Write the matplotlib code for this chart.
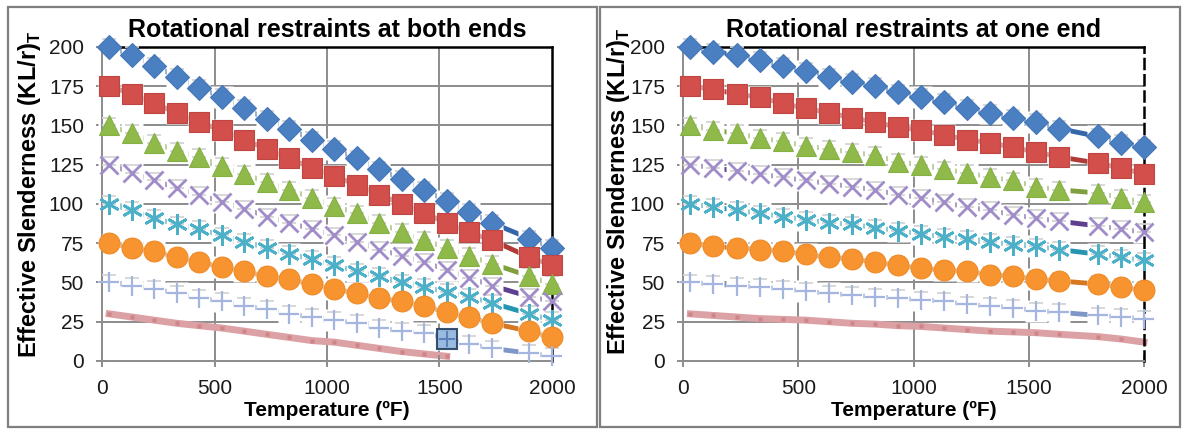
import matplotlib
matplotlib.use("Agg")
import matplotlib.pyplot as plt
from matplotlib.patches import Rectangle

plt.rcParams["font.family"] = ["Liberation Sans", "DejaVu Sans"]
plt.rcParams["mathtext.fontset"] = "custom"
plt.rcParams["mathtext.rm"] = "Liberation Sans"
plt.rcParams["mathtext.bf"] = "Liberation Sans:bold"

# temperatures (F) of the plotted points
TEMP_L = [32, 132, 232, 332, 432, 532, 632, 732, 832, 932, 1032, 1132, 1232,
          1332, 1432, 1532, 1632, 1732, 1900, 2000]
TEMP_R = [32, 132, 232, 332, 432, 532, 632, 732, 832, 932, 1032, 1132, 1232,
          1332, 1432, 1532, 1632, 1800, 1900, 2000]

# rotational restraints at both ends
BLUE_L = [200, 195, 188, 181, 174, 168, 161, 154, 148, 141, 135, 129, 122, 116, 109, 102, 95, 88, 78, 72]
RED_L = [175, 170, 164, 158, 152, 147, 141, 135, 129, 123, 118, 112, 106, 100, 94, 88, 82, 77, 66, 61]
GREEN_L = [150, 145, 139, 134, 130, 124, 119, 114, 109, 104, 99, 94, 88, 82, 77, 72, 67, 62, 54, 49]
PURPLE_L = [125, 120, 115, 110, 106, 101, 97, 92, 88, 84, 80, 76, 71, 67, 63, 58, 53, 48, 41, 38]
CYAN_L = [100, 96, 91, 87, 84, 80, 76, 72, 68, 65, 61, 57, 54, 50, 47, 44, 41, 37, 30, 26]
ORANGE_L = [75, 72, 70, 66, 63, 60, 57, 54, 52, 49, 46, 43, 40, 38, 35, 31, 28, 24, 19, 15]
PLUS_L = [50, 48, 46, 43, 40, 38, 35, 33, 30, 28, 26, 24, 21, 19, 18, 14, 11, 8, 5, 3]
PINK_L = [30, 28, 26, 24, 22.5, 21, 19, 17, 15, 13, 12, 10, 8, 6, 4.5, 3]

# rotational restraints at one end
BLUE_R = [200, 197, 195, 192, 188, 185, 181, 178, 175, 171, 168, 165, 161, 158, 155, 152, 148, 143, 139, 136]
RED_R = [175, 173, 170, 168, 164, 161, 158, 155, 152, 149, 147, 144, 141, 139, 136, 133, 130, 126, 123, 119]
GREEN_R = [150, 147, 145, 142, 140, 137, 135, 133, 131, 127, 125, 122, 120, 117, 115, 111, 109, 107, 104, 101]
PURPLE_R = [125, 123, 121, 119, 117, 115, 113, 111, 109, 106, 104, 101, 98, 96, 93, 91, 89, 86, 84, 82]
CYAN_R = [100, 98, 96, 94, 92, 90, 88, 87, 85, 83, 81, 79, 78, 76, 74, 73, 71, 68, 66, 64]
ORANGE_R = [75, 73, 72, 71, 70, 68, 66, 65, 63, 61, 59, 58, 57, 55, 54, 52, 51, 49, 47, 45]
PLUS_R = [50, 49, 48, 47, 46, 44.5, 43, 42, 41, 40, 39, 38, 36, 35, 34, 32, 31, 29, 28, 27]
PINK_R = [30, 29, 28, 27, 26.5, 26, 25, 24, 23.5, 22.5, 22, 21, 20, 19, 18.5, 18, 17, 15.5, 14, 12]

HIGHLIGHT_IDX = 15  # selected point on the "+" series, left panel
CAP_ERR = 5  # the faint caps drawn above each marker

XTICKS = [0, 500, 1000, 1500, 2000]
YTICKS = [0, 25, 50, 75, 100, 125, 150, 175, 200]

# (marker, size, face, edge, line colour, marker edge width)
STYLES = [
    ("D", 12, "#4a7fc1", "#4477b8", "#3566a8", 0.8),
    ("s", 15, "#d24f4b", "#bf4642", "#b03a36", 0.8),
    ("^", 15, "#8fba4a", "#84b044", "#80a040", 0.8),
    ("x", 13, "#a08cc8", "#a08cc8", "#5f3f8f", 2.0),
    ((6, 2, 0), 15, "#4bb0c8", "#4bb0c8", "#2595b0", 2.0),
    ("o", 15, "#f79430", "#ee8a26", "#d67820", 0.8),
    ("+", 15, "#a4b6df", "#a4b6df", "#7f96c8", 1.6),
]

GRID = "#8c8c8c"


def draw_panel(ax, temps, series, pink, title):
    for v in XTICKS[1:-1]:
        ax.axvline(v, color=GRID, lw=1.4, zorder=0)
    for v in YTICKS[1:-1]:
        ax.axhline(v, color=GRID, lw=1.4, zorder=0)

    ax.plot(temps[:len(pink)], pink, color="#dca1a4", lw=5, zorder=1,
            clip_on=False, marker="s", ms=3.5, mfc="#cf8488", mec="none")

    for ys, (mk, ms, fc, ec, lc, mew) in zip(series, STYLES):
        ax.plot(temps, ys, color=lc, lw=3.5, zorder=2, clip_on=False,
                solid_capstyle="butt")
        # white halo behind each marker, hides the line and grid under it
        ax.plot(temps, ys, ls="none", marker="s", ms=15.5, mfc="white",
                mec="none", zorder=2.5, clip_on=False)
        ax.errorbar(temps, ys, yerr=[[0] * len(ys), [CAP_ERR] * len(ys)],
                    fmt="none", ecolor="#d4d4d4", elinewidth=0, capsize=5,
                    capthick=1.3, zorder=2.6, clip_on=False)
        ax.plot(temps, ys, ls="none", marker=mk, ms=ms, mfc=fc, mec=ec,
                mew=mew, zorder=3, clip_on=False)

    ax.set_xlim(0, 2000)
    ax.set_ylim(0, 200)
    ax.set_xticks(XTICKS)
    ax.set_yticks(YTICKS)
    ax.tick_params(direction="inout", length=8, width=1.4, color=GRID,
                   labelsize=15, labelcolor="#1a1a1a", pad=9)

    for side in ("left", "bottom"):
        ax.spines[side].set_color(GRID)
        ax.spines[side].set_linewidth(1.4)
    ax.spines["top"].set_color("black")
    ax.spines["top"].set_linewidth(1.8)
    ax.spines["right"].set_color("black")
    ax.spines["right"].set_linewidth(1.8)

    ax.set_title(title, fontsize=18, fontweight="bold", pad=7)
    ax.set_xlabel("Temperature (ºF)", fontsize=15, fontweight="bold",
                  labelpad=2)
    ax.set_ylabel(r"Effective Slenderness (KL/r)$_\mathregular{T}$",
                  fontsize=17, fontweight="bold")


fig = plt.figure(figsize=(11.85, 4.32), dpi=100)
ax1 = fig.add_axes([0.0861, 0.1644, 0.3797, 0.7269])
ax2 = fig.add_axes([0.5764, 0.1644, 0.3890, 0.7269])

draw_panel(ax1, TEMP_L,
           [BLUE_L, RED_L, GREEN_L, PURPLE_L, CYAN_L, ORANGE_L, PLUS_L],
           PINK_L, "Rotational restraints at both ends")
draw_panel(ax2, TEMP_R,
           [BLUE_R, RED_R, GREEN_R, PURPLE_R, CYAN_R, ORANGE_R, PLUS_R],
           PINK_R, "Rotational restraints at one end")
ax2.spines["right"].set_linestyle((0, (4, 2.5)))

# selected point box
ax1.plot(TEMP_L[HIGHLIGHT_IDX], PLUS_L[HIGHLIGHT_IDX], marker="s", ms=15,
         mfc="#8fb4dd", mec="#243f60", mew=1.5, zorder=4, alpha=0.9)
ax1.plot(TEMP_L[HIGHLIGHT_IDX], PLUS_L[HIGHLIGHT_IDX], marker="+", ms=12,
         mec="#5a7fb8", mew=1.4, zorder=5)

ax1.yaxis.set_label_coords(-0.131, 0.53)
ax2.yaxis.set_label_coords(-0.111, 0.54)

# panel frames
fig.add_artist(Rectangle((0.0068, 0.0116), 0.4970, 0.972, transform=fig.transFigure,
                         fill=False, ec="#7f7f7f", lw=1.6))
fig.add_artist(Rectangle((0.5063, 0.0116), 0.4895, 0.972, transform=fig.transFigure,
                         fill=False, ec="#7f7f7f", lw=1.6))

fig.savefig("out.png", dpi=100, facecolor="white")
